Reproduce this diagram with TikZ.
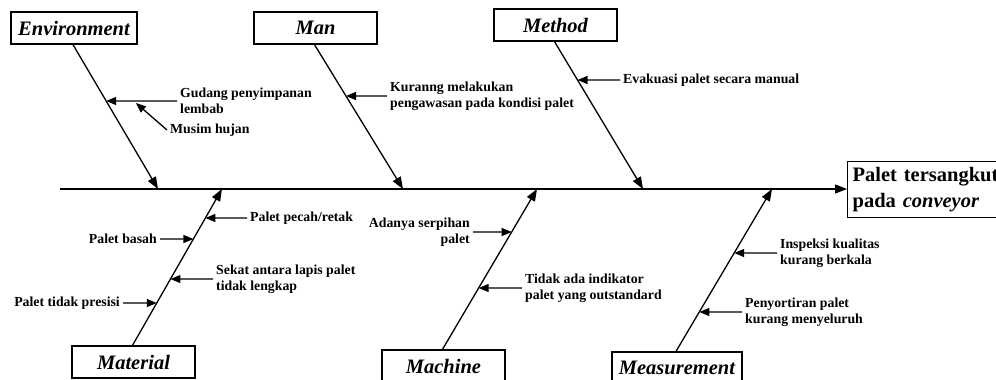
\documentclass[tikz,border=0pt]{standalone}
\usepackage{fontspec}
\setmainfont{Liberation Serif}
\usetikzlibrary{arrows.meta,calc}

\begin{document}
\begin{tikzpicture}[
  x=1pt, y=-1pt,
  cat/.style={
    draw, line width=1.3pt,
    minimum height=32pt, inner sep=0pt,
    font=\fontsize{20.5}{24}\selectfont\bfseries\itshape
  },
  cause/.style={inner sep=3pt, font=\fontsize{13.8}{16}\selectfont\bfseries},
  bone/.style={line width=1.3pt, -{Triangle[length=12pt,width=9pt]}},
  twig/.style={line width=1.3pt, -{Triangle[length=10pt,width=8pt]}}
]
\useasboundingbox (0,0) rectangle (996,380);

% --- Head and spine ---
\node[draw, line width=1.3pt, anchor=north west,
      text width=160pt, minimum height=56pt, inner sep=5pt,
      font=\fontsize{20.5}{26}\selectfont\bfseries, align=left]
  (effect) at (847,161) {Palet tersangkut\\pada \textit{conveyor}};
\coordinate (tail) at (60,189);
\draw[bone] (tail) -- (tail -| effect.west);

% --- Main bones ---
\foreach \name/\txt/\w/\bx/\by/\side/\sx in
  {env/Environment/126/74/28/south/158, man/Man/123/315.5/28/south/403,
   meth/Method/123/555.5/25/south/643, mat/Material/123/133.5/362/north/222,
   mach/Machine/123/443.5/366/north/537, meas/Measurement/130/677/368/north/772}
{
  \node[cat, minimum width=\w pt] (\name) at (\bx,\by) {\txt};
  \coordinate (b\name) at ([xshift=-1pt]\name.\side);
  \coordinate (s\name) at (\sx,189);
  \draw[bone] (b\name) -- (s\name);
}

% --- Environment ---
\node[cause, anchor=west, align=left] (gudang) at (177,101) {Gudang penyimpanan\\lembab};
\path (intersection of gudang.west--gudang.east and benv--senv) coordinate (gp);
\draw[twig] (gudang.west) -- (gp);
\node[cause, anchor=west] (musim) at (167,130) {Musim hujan};
\draw[twig] (musim.west) -- ($(gudang.west)!0.58!(gp)+(0,2)$);

% --- Man ---
\node[cause, anchor=west, align=left] (awas) at (387,96) {Kuranng melakukan\\pengawasan pada kondisi palet};
\draw[twig] (awas.west) -- (intersection of awas.west--awas.east and bman--sman);

% --- Method ---
\node[cause, anchor=west] (evak) at (620,80) {Evakuasi palet secara manual};
\draw[twig] (evak.west) -- (intersection of evak.west--evak.east and bmeth--smeth);

% --- Material ---
\node[cause, anchor=west] (pecah) at (247,218) {Palet pecah/retak};
\draw[twig] (pecah.west) -- (intersection of pecah.west--pecah.east and bmat--smat);
\node[cause, anchor=east] (basah) at (160,239) {Palet basah};
\draw[twig] (basah.east) -- (intersection of basah.east--basah.west and bmat--smat);
\node[cause, anchor=west, align=left] (sekat) at (213,279) {Sekat antara lapis palet\\tidak lengkap};
\draw[twig] (sekat.west) -- (intersection of sekat.west--sekat.east and bmat--smat);
\node[cause, anchor=east] (presisi) at (123,303) {Palet tidak presisi};
\draw[twig] (presisi.east) -- (intersection of presisi.east--presisi.west and bmat--smat);

% --- Machine ---
\node[cause, anchor=east, align=right] (serpih) at (473,232) {Adanya serpihan\\palet};
\draw[twig] (serpih.east) -- (intersection of serpih.east--serpih.west and bmach--smach);
\node[cause, anchor=west, align=left] (indik) at (522,288) {Tidak ada indikator\\palet yang outstandard};
\draw[twig] (indik.west) -- (intersection of indik.west--indik.east and bmach--smach);

% --- Measurement ---
\node[cause, anchor=west, align=left] (inspek) at (777,253) {Inspeksi kualitas\\kurang berkala};
\draw[twig] (inspek.west) -- (intersection of inspek.west--inspek.east and bmeas--smeas);
\node[cause, anchor=west, align=left] (sortir) at (742,312) {Penyortiran palet\\kurang menyeluruh};
\draw[twig] (sortir.west) -- (intersection of sortir.west--sortir.east and bmeas--smeas);

\end{tikzpicture}
\end{document}
